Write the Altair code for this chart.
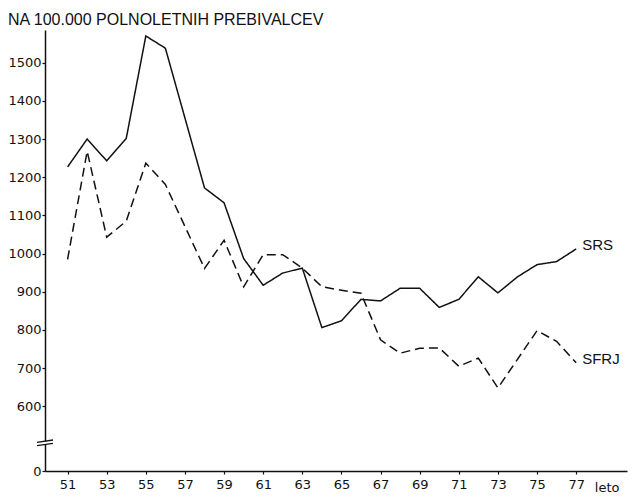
import altair as alt
import pandas as pd

# ---- data ----
years = list(range(51, 78))
srs = [1227, 1300, 1243, 1302, 1570, 1538, 1355, 1172, 1133, 987, 917, 949, 962,
       806, 824, 880, 876, 909, 909, 859, 880, 939, 897, 939, 971, 979, 1012]
sfrj = [985, 1268, 1043, 1085, 1237, 1181, 1071, 961, 1035, 913, 997, 997, 962,
        913, 904, 896, 774, 739, 752, 753, 705, 726, 648, 723, 798, 770, 714]
series_names = ["SRS", "SFRJ"]
x_ticks = list(range(51, 78, 2))
y_break_value = 430.4          # the broken axis: this position is labelled "0"
y_ticks = [y_break_value, 600, 700, 800, 900, 1000, 1100, 1200, 1300, 1400, 1500]
title_text = "NA 100.000 POLNOLETNIH PREBIVALCEV"
x_title = "leto"

df = pd.DataFrame({
    "year": years * 2,
    "value": srs + sfrj,
    "series": ["SRS"] * len(years) + ["SFRJ"] * len(years),
})
end_df = pd.DataFrame({
    "year": [years[-1], years[-1]],
    "value": [srs[-1], sfrj[-1]],
    "series": series_names,
})

W, H = 582, 441
ink = "#111111"
FONT = "DejaVu Sans"

xscale = alt.Scale(domain=[49.845, 79.6], nice=False, zero=False)
yscale = alt.Scale(domain=[y_break_value, 1585.7], nice=False, zero=False)

x_axis = alt.Axis(
    values=x_ticks, format="d", title=x_title, grid=False,
    domainColor=ink, domainWidth=1.5, tickColor=ink, tickSize=3, tickWidth=1.2,
    labelFont=FONT, labelFontSize=13, labelColor=ink, labelPadding=4,
    titleX=574, titleY=20, titleAlign="right", titleBaseline="alphabetic",
    titleFont=FONT, titleFontSize=13, titleFontWeight="normal", titleColor=ink,
    labelFlush=False,
)
y_axis = alt.Axis(
    values=y_ticks, format="d", title=None, grid=False,
    labelExpr=f"datum.value < 500 ? '0' : datum.label",
    domainColor=ink, domainWidth=1.5, tickColor=ink, tickSize=3, tickWidth=1.2,
    labelFont=FONT, labelFontSize=13, labelColor=ink, labelPadding=1,
    labelFlush=False,
)

lines = alt.Chart(df).mark_line(color=ink, strokeWidth=1.5).encode(
    x=alt.X("year:Q", scale=xscale, axis=x_axis),
    y=alt.Y("value:Q", scale=yscale, axis=y_axis),
    strokeDash=alt.StrokeDash(
        "series:N",
        scale=alt.Scale(domain=series_names, range=[[1, 0], [9, 5]]),
        legend=None,
    ),
    detail="series:N",
)

labels = alt.Chart(end_df).mark_text(
    align="left", baseline="middle", dx=6, dy=-4,
    font="Liberation Sans", fontSize=15, color=ink,
).encode(
    x=alt.X("year:Q", scale=xscale),
    y=alt.Y("value:Q", scale=yscale),
    text="series:N",
)

title = alt.Chart(pd.DataFrame({"t": [title_text]})).mark_text(
    align="left", baseline="alphabetic", font="Liberation Sans", fontSize=16, color=ink,
).encode(x=alt.value(-37), y=alt.value(-5), text="t:N")

# axis-break marks
gap = alt.Chart(pd.DataFrame({"k": [0]})).mark_rule(color="white", strokeWidth=4).encode(
    x=alt.value(0), y=alt.value(411.5), y2=alt.value(414.5)
)
brk = alt.Chart(pd.DataFrame({"y1": [412.3, 415.7], "y2": [410.0, 413.3]})).mark_rule(
    color=ink, strokeWidth=1.3
).encode(
    x=alt.value(-8), x2=alt.value(8),
    y=alt.Y("y1:Q", scale=None), y2=alt.Y2("y2:Q"),
)

chart = alt.layer(gap, brk, lines, labels, title).properties(
    width=W, height=H,
    autosize=alt.AutoSizeParams(type="none"),
    padding={"left": 37, "top": 22, "right": 3, "bottom": 22},
    background="white",
).configure_view(stroke=None)

chart.save("out.html", embed_options={"renderer": "svg", "actions": False})
